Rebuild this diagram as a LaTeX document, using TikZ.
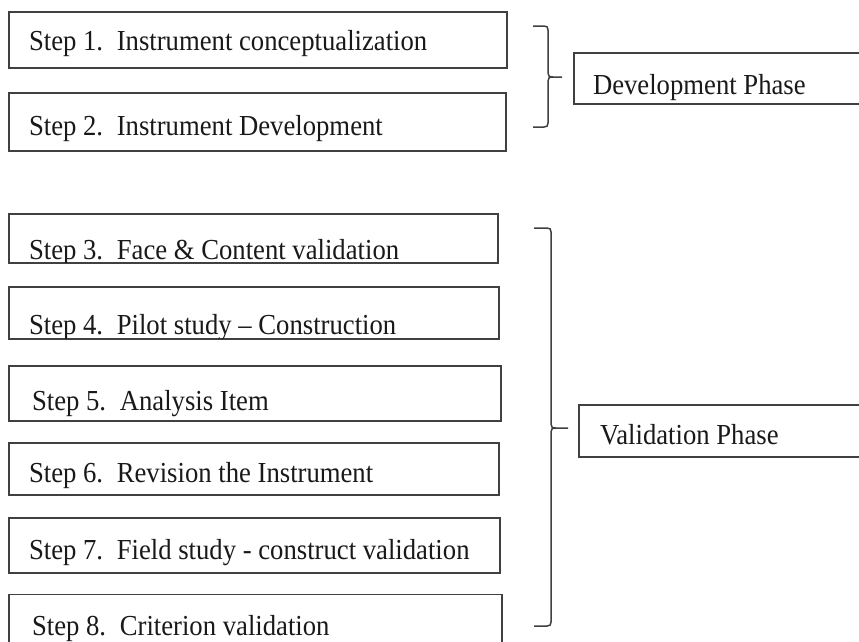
\documentclass[tikz,border=0pt]{standalone}
\usepackage{fontspec}
\setmainfont{Liberation Serif}[FakeStretch=0.92]
\begin{document}
\begin{tikzpicture}[x=1pt,y=-1pt,
  every node/.style={inner sep=0pt, outer sep=0pt},
  stepbox/.style={draw=black!75, line width=1.6pt, rectangle},
  steptext/.style={anchor=base west, font=\fontsize{29}{32}\selectfont, text=black!90},
  brace/.style={draw=black!75, line width=1.5pt}]
\clip (0,0) rectangle (859,641);
\fill[white] (0,0) rectangle (859,641);
% step boxes
\node[stepbox, minimum width=498pt, minimum height=56pt] (s1) at (258,40) {};
\node[stepbox, minimum width=497pt, minimum height=58pt] (s2) at (257.5,122) {};
\node[stepbox, minimum width=489pt, minimum height=49pt] (s3) at (253.5,238.5) {};
\node[stepbox, minimum width=490pt, minimum height=52pt] (s4) at (254,313) {};
\node[stepbox, minimum width=492pt, minimum height=55pt] (s5) at (255,393.5) {};
\node[stepbox, minimum width=490pt, minimum height=52pt] (s6) at (254,469) {};
\node[stepbox, minimum width=491pt, minimum height=55pt] (s7) at (254.5,545.5) {};
\node[stepbox, minimum width=493pt, minimum height=55pt] (s8) at (255.5,622) {};
% texts
\node[steptext] (t1) at (29,50) {Step 1.\, Instrument conceptualization};
\node[steptext] (t2) at (29,135) {Step 2.\, Instrument Development};
\begin{scope}
  \clip ([yshift=0.8pt]s3.south west) rectangle (s3.north east);
  \node[steptext] (t3) at (29,259) {Step 3.\, Face \& Content validation};
\end{scope}
\begin{scope}
  \clip ([yshift=0.8pt]s4.south west) rectangle (s4.north east);
  \node[steptext] (t4) at (29,334) {Step 4.\, Pilot study – Construction};
\end{scope}
\node[steptext] (t5) at (32,410) {Step 5.\, Analysis Item};
\node[steptext] (t6) at (29,482) {Step 6.\, Revision the Instrument};
\node[steptext] (t7) at (29,559) {Step 7.\, Field study - construct validation};
\node[steptext] (t8) at (32,635) {Step 8.\, Criterion validation};
% phase boxes
\node[stepbox, minimum width=296pt, minimum height=51pt] (dev) at (722,78.5) {};
\node[steptext] (devt) at (593,94) {Development Phase};
\node[stepbox, minimum width=291pt, minimum height=52pt] (val) at (724.5,431) {};
\node[steptext] (valt) at (600,444) {Validation Phase};
% braces
\coordinate (db1) at (533,26);
\coordinate (db2) at (533,127);
\coordinate (dtip) at (562,77);
\draw[brace] (db1) -- (544,26) .. controls (547,26) and (548,27) .. (548,30) -- (548,73)
  .. controls (548,76) and (549,77) .. (553,77) -- (dtip);
\draw[brace] (553,77) .. controls (549,77) and (548,78) .. (548,81) -- (548,123)
  .. controls (548,126) and (547,127) .. (544,127) -- (db2);
\coordinate (vb1) at (534,228);
\coordinate (vb2) at (534,626);
\coordinate (vtip) at (568,428);
\draw[brace] (vb1) -- (547,228) .. controls (550,228) and (551,229) .. (551,232) -- (551,424)
  .. controls (551,427) and (552,428) .. (556,428) -- (vtip);
\draw[brace] (556,428) .. controls (552,428) and (551,429) .. (551,432) -- (551,622)
  .. controls (551,625) and (550,626) .. (547,626) -- (vb2);
\end{tikzpicture}
\end{document}
